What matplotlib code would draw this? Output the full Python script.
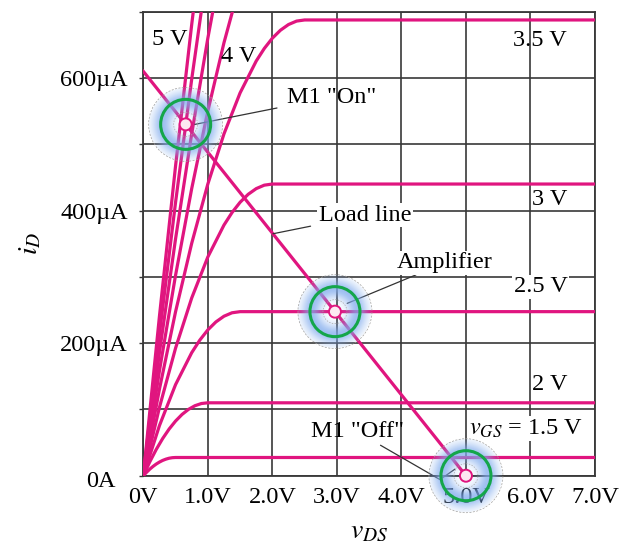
import numpy as np
import matplotlib
matplotlib.use("Agg")
import matplotlib.pyplot as plt
from matplotlib import transforms
from matplotlib.patches import Circle
from matplotlib.offsetbox import OffsetImage, AnnotationBbox

plt.rcParams['font.family'] = ['Liberation Serif', 'DejaVu Serif']
plt.rcParams['mathtext.fontset'] = 'stix'

# drain characteristics, iD in uA vs vDS in V
vds_15 = [0, 0.05, 0.1, 0.15, 0.2, 0.25, 0.3, 0.35, 0.4, 0.45, 0.5, 7.0]
id_15 = [0, 5.2, 9.9, 14.0, 17.6, 20.6, 23.1, 25.0, 26.4, 27.2, 27.5, 27.5]
vds_20 = [0, 0.1, 0.2, 0.3, 0.4, 0.5, 0.6, 0.7, 0.8, 0.9, 1.0, 7.0]
id_20 = [0, 20.9, 39.6, 56.1, 70.4, 82.5, 92.4, 100.1, 105.6, 108.9, 110, 110]
vds_25 = [0, 0.25, 0.5, 0.75, 0.875, 1.0, 1.125, 1.25, 1.375, 1.5, 7.0]
id_25 = [0, 75.6, 137.5, 185.6, 204.5, 220, 232.0, 240.6, 245.8, 247.5, 247.5]
vds_30 = [0, 0.25, 0.5, 0.75, 1.0, 1.25, 1.375, 1.5, 1.625, 1.75, 1.875, 2.0, 7.0]
id_30 = [0, 103.1, 192.5, 268.1, 330, 378.1, 397.0, 412.5, 424.5, 433.1, 438.3, 440, 440]
vds_35 = [0, 0.25, 0.5, 0.75, 1.0, 1.25, 1.5, 1.75, 1.875, 2.0, 2.125, 2.25, 2.375, 2.5, 7.0]
id_35 = [0, 130.6, 247.5, 350.6, 440, 515.6, 577.5, 625.6, 644.5, 660, 672.0, 680.6, 685.8,
         687.5, 687.5]
vds_40 = [0, 0.25, 0.5, 0.75, 1.0, 1.25, 1.5]
id_40 = [0, 158.1, 302.5, 433.1, 550, 653.1, 742.5]
vds_45 = [0, 0.25, 0.5, 0.75, 1.0, 1.25]
id_45 = [0, 185.6, 357.5, 515.6, 660, 790.6]
vds_50 = [0, 0.25, 0.5, 0.75, 1.0]
id_50 = [0, 213.1, 412.5, 598.1, 770]
vds_55 = [0, 0.25, 0.5, 0.75, 1.0]
id_55 = [0, 240.6, 467.5, 680.6, 880]

curves = [(vds_15, id_15), (vds_20, id_20), (vds_25, id_25), (vds_30, id_30),
          (vds_35, id_35), (vds_40, id_40), (vds_45, id_45), (vds_50, id_50),
          (vds_55, id_55)]

load_v = [0, 5.0]
load_i = [610, 0]

# operating points
q_points = [(0.656, 530), (2.97, 247.5), (5.0, 0)]

x_ticks = [0, 1, 2, 3, 4, 5, 6, 7]
x_labels = ['0V', '1.0V', '2.0V', '3.0V', '4.0V', '5.0V', '6.0V', '7.0V']
y_ticks = [0, 200, 400, 600]
y_labels = ['0A', '200µA', '400µA', '600µA']

pink = '#e0157f'
gridc = '#383838'
fs = 17.5

fig = plt.figure(figsize=(6.22, 5.43), dpi=100)
ax = fig.add_axes([0.2304, 0.1239, 0.7262, 0.8546])
ax.set_xlim(0, 7)
ax.set_ylim(0, 700)

ax.set_xticks(x_ticks)
ax.set_yticks(np.arange(0, 800, 100))
ax.set_xticklabels(x_labels, fontsize=fs)
ax.set_yticklabels([y_labels[y_ticks.index(t)] if t in y_ticks else '' for t in range(0, 800, 100)],
                   fontsize=fs)
ax.tick_params(axis='x', length=0, pad=8)
ax.tick_params(axis='y', length=3, width=1.0, color=gridc, pad=8)
ax.grid(True, color=gridc, linewidth=1.2)
ax.set_axisbelow(True)
for s in ax.spines.values():
    s.set_color(gridc)
    s.set_linewidth(1.3)

lbl0 = ax.get_yticklabels()[0]
lbl0.set_transform(lbl0.get_transform() + transforms.ScaledTranslation(-0.12, -0.03, fig.dpi_scale_trans))

ax.set_xlabel(r'$v_{DS}$', fontsize=20, labelpad=8)
ax.set_ylabel(r'$i_D$', fontsize=20, labelpad=12)

for v, i in curves:
    ax.plot(v, i, color=pink, lw=2.3, solid_joinstyle='round', zorder=3)
ax.plot(load_v, load_i, color=pink, lw=2.3, zorder=3)

# curve labels
ax.text(0.413, 658, '5 V', fontsize=fs, ha='center', va='center', zorder=5)
ax.text(1.48, 633, '4 V', fontsize=fs, ha='center', va='center', zorder=5)
ax.text(6.15, 657, '3.5 V', fontsize=fs, ha='center', va='center', zorder=5)
ax.text(6.30, 417, '3 V', fontsize=fs, ha='center', va='center', zorder=5)
ax.text(6.16, 285, '2.5 V', fontsize=fs, ha='center', va='center', zorder=5,
        bbox=dict(fc='white', ec='none', pad=1))
ax.text(6.30, 138, '2 V', fontsize=fs, ha='center', va='center', zorder=5)
ax.text(5.93, 71, r'$v_{GS}$ = 1.5 V', fontsize=fs, ha='center', va='center', zorder=5,
        bbox=dict(fc='white', ec='none', pad=1))

lead = dict(arrowstyle='-', color='#333333', lw=0.9, shrinkA=5, shrinkB=0)
ax.annotate('M1 "On"', xy=(0.80, 530), xytext=(2.22, 571), fontsize=fs,
            ha='left', va='center', arrowprops=lead, zorder=5)
ax.annotate('Load line', xy=(2.01, 365), xytext=(2.72, 393), fontsize=fs,
            ha='left', va='center', arrowprops=lead, zorder=5,
            bbox=dict(fc='white', ec='none', pad=1))
ax.annotate('Amplifier', xy=(3.16, 260), xytext=(3.93, 321), fontsize=fs,
            ha='left', va='center', arrowprops=dict(lead, shrinkA=0), zorder=5,
            bbox=dict(fc='white', ec='none', pad=1))
ax.annotate('M1 "Off"', xy=(4.83, 10), xytext=(4.04, 66), fontsize=fs,
            ha='right', va='center', zorder=5,
            arrowprops=dict(arrowstyle='-', color='#333333', lw=0.9, shrinkA=0, shrinkB=0,
                            connectionstyle='angle,angleA=-30,angleB=35,rad=0'))

# glow image for the operating point markers
R = 38
yy, xx = np.mgrid[-R:R + 1, -R:R + 1]
rr = np.hypot(xx, yy)
glow = np.zeros((2 * R + 1, 2 * R + 1, 4))
glow[..., 0] = 0.50
glow[..., 1] = 0.67
glow[..., 2] = 0.93
alpha = 0.75 * np.exp(-((rr - 23) / 10.0) ** 2)
alpha[rr > 36.5] = 0
glow[..., 3] = alpha

def px_circle(x, y, r_px, **kw):
    tr = fig.dpi_scale_trans + transforms.ScaledTranslation(x, y, ax.transData)
    c = Circle((0, 0), r_px / 100.0, transform=tr, clip_on=False, **kw)
    ax.add_artist(c)

for qx, qy in q_points:
    ab = AnnotationBbox(OffsetImage(glow, zoom=0.72), (qx, qy), frameon=False,
                        pad=0, box_alignment=(0.5, 0.5), zorder=6, annotation_clip=False)
    ax.add_artist(ab)
    px_circle(qx, qy, 37, fill=False, ec='#a0a0a0', lw=0.5, ls=(0, (3, 2)), zorder=7)
    px_circle(qx, qy, 25, fill=False, ec='#14a64a', lw=2.2, zorder=8)
    px_circle(qx, qy, 12, fill=False, ec='#a8a8a8', lw=0.5, ls=(0, (2, 2)), zorder=8)
    px_circle(qx, qy, 6, fc='#fde8f2', ec=pink, lw=1.4, zorder=9)

fig.savefig('out.png', dpi=100)
